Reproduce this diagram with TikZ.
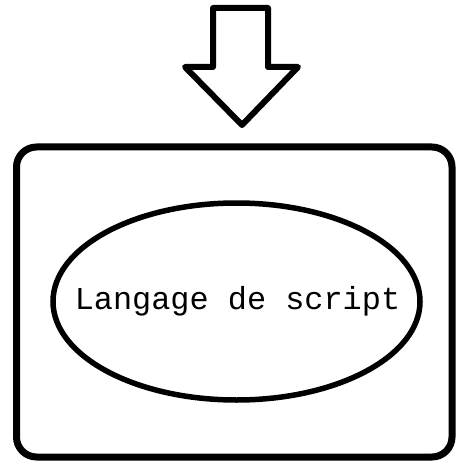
\documentclass[tikz,border=0pt]{standalone}
\usepackage{fontspec}
\setmonofont{Liberation Mono}
\usetikzlibrary{shapes.geometric}
\begin{document}
\begin{tikzpicture}[x=1pt,y=-1pt,
  frame/.style={draw=black,line width=7pt,rounded corners=20pt,minimum width=435.5pt,minimum height=310pt,inner sep=0pt},
  oval/.style={ellipse,draw=black,line width=5.5pt,minimum width=367pt,minimum height=197pt,inner sep=0pt},
  label/.style={font=\ttfamily\fontsize{31.9}{36}\selectfont,inner sep=0pt},
  bigarrow/.style={draw=black,line width=6pt,line join=round,fill=white}]
\useasboundingbox (0,0) rectangle (456,462);
\node[frame] (box) at (234.25,302) {};
\node[oval] (lang) at (236.5,301.5) {};
\node[label] (langtext) at (237.5,301) {Langage de script};
\draw[bigarrow] (213,8) -- (268,8) -- (268,67) -- (298,67) -- (242,125) -- (185,67) -- (213,67) -- cycle;
\end{tikzpicture}
\end{document}
